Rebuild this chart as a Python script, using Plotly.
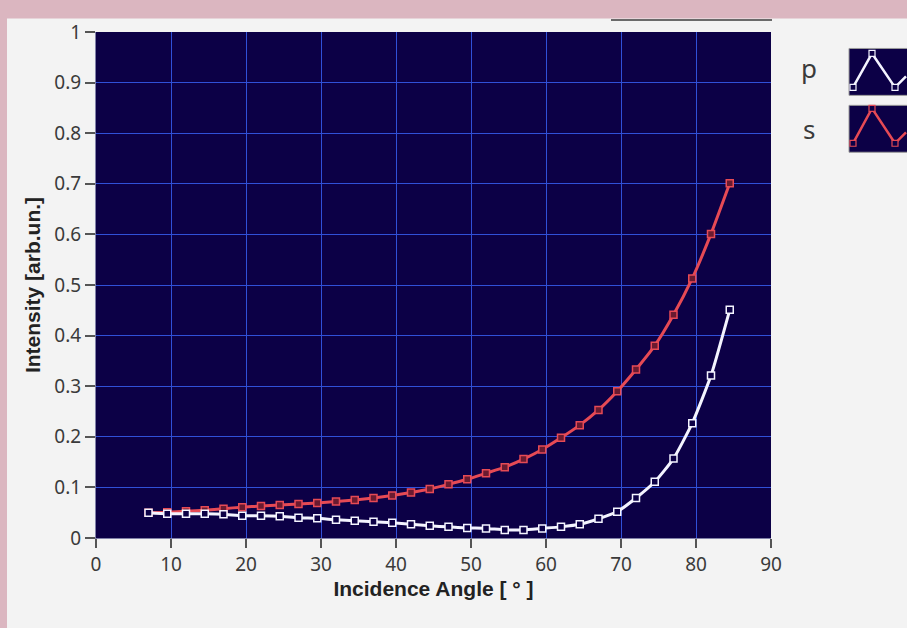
import plotly.graph_objects as go

# ---- data ----
angle = [7.0, 9.5, 12.0, 14.5, 17.0, 19.5, 22.0, 24.5, 27.0, 29.5,
         32.0, 34.5, 37.0, 39.5, 42.0, 44.5, 47.0, 49.5, 52.0, 54.5,
         57.0, 59.5, 62.0, 64.5, 67.0, 69.5, 72.0, 74.5, 77.0, 79.5,
         82.0, 84.5]
p_int = [0.050, 0.048, 0.048, 0.048, 0.047, 0.044, 0.044, 0.043, 0.040, 0.039,
         0.036, 0.034, 0.032, 0.030, 0.027, 0.024, 0.022, 0.020, 0.019, 0.016,
         0.016, 0.019, 0.022, 0.027, 0.038, 0.052, 0.079, 0.111, 0.157, 0.227,
         0.321, 0.451]
s_int = [0.050, 0.051, 0.053, 0.055, 0.058, 0.061, 0.063, 0.065, 0.067, 0.069,
         0.072, 0.075, 0.079, 0.084, 0.090, 0.097, 0.106, 0.116, 0.128, 0.140,
         0.156, 0.175, 0.198, 0.223, 0.253, 0.290, 0.333, 0.380, 0.441, 0.513,
         0.601, 0.701]
x_ticks = [0, 10, 20, 30, 40, 50, 60, 70, 80, 90]
y_ticks = [0, 0.1, 0.2, 0.3, 0.4, 0.5, 0.6, 0.7, 0.8, 0.9, 1]
y_tick_text = ["0", "0.1", "0.2", "0.3", "0.4", "0.5", "0.6", "0.7", "0.8", "0.9", "1"]
series_names = ["p", "s"]

# ---- styling ----
W, H = 907, 628
L, R, T, B = 96, 136, 31.5, 89.5
PW, PH = W - L - R, H - T - B
NAVY = "#0c0046"
GRID = "#3050d8"
RED = "#e64a55"
WHITE = "#f4f4ff"
PANEL = "#f3f3f3"
PINK = "#dbb6c0"
TXT = "#3a3a3a"


def px(xp):
    return (xp - L) / PW


def py(yp):
    return (H - B - yp) / PH


fig = go.Figure()
fig.add_trace(go.Scatter(
    x=angle, y=s_int, mode="lines+markers", name=series_names[1],
    line=dict(color=RED, width=3, shape="spline", smoothing=0.5),
    marker=dict(symbol="square", size=7, color="#6a1a30", line=dict(color=RED, width=1.5)),
))
fig.add_trace(go.Scatter(
    x=angle, y=p_int, mode="lines+markers", name=series_names[0],
    line=dict(color=WHITE, width=3, shape="spline", smoothing=0.5),
    marker=dict(symbol="square", size=7, color=NAVY, line=dict(color=WHITE, width=1.5)),
))

shapes = [
    # pink frame
    dict(type="rect", xref="paper", yref="paper", x0=px(-5), x1=px(W + 5), y0=py(18), y1=py(-5),
         fillcolor=PINK, line=dict(width=0), layer="below"),
    dict(type="rect", xref="paper", yref="paper", x0=px(-5), x1=px(7), y0=py(H + 5), y1=py(-5),
         fillcolor=PINK, line=dict(width=0), layer="below"),
    # thin grey bar at top
    dict(type="line", xref="paper", yref="paper", x0=px(611), x1=px(772), y0=py(19.5), y1=py(19.5),
         line=dict(color="#6a6a6a", width=2)),
    # legend boxes
    dict(type="rect", xref="paper", yref="paper", x0=px(849), x1=px(912), y0=py(95), y1=py(48),
         fillcolor=NAVY, line=dict(color="#9a9a9a", width=1)),
    dict(type="rect", xref="paper", yref="paper", x0=px(849), x1=px(912), y0=py(152), y1=py(105),
         fillcolor=NAVY, line=dict(color="#9a9a9a", width=1)),
]


def icon_path(pts):
    return "M " + " L ".join(f"{px(a):.5f},{py(b):.5f}" for a, b in pts)


p_icon = [(853, 87), (872, 53), (895, 87), (906, 76)]
s_icon = [(853, 143), (872, 108), (895, 143), (906, 132)]
for pts, col in [(p_icon, WHITE), (s_icon, RED)]:
    shapes.append(dict(type="path", xref="paper", yref="paper", path=icon_path(pts),
                       line=dict(color=col, width=2.5)))
    for a, b in pts[:3]:
        shapes.append(dict(type="rect", xref="paper", yref="paper",
                           x0=px(a - 3), x1=px(a + 3), y0=py(b + 3), y1=py(b - 3),
                           fillcolor=NAVY, line=dict(color=col, width=1.2)))

annotations = [
    dict(text=series_names[0], xref="paper", yref="paper", x=px(809), y=py(68),
         xanchor="center", yanchor="middle",
         showarrow=False, font=dict(family="Noto Sans", size=26, color=TXT)),
    dict(text=series_names[1], xref="paper", yref="paper", x=px(809), y=py(129),
         xanchor="center", yanchor="middle",
         showarrow=False, font=dict(family="Noto Sans", size=26, color=TXT)),
]

fig.update_layout(
    width=W, height=H,
    margin=dict(l=L, r=R, t=T, b=B, pad=0),
    paper_bgcolor=PANEL,
    plot_bgcolor=NAVY,
    showlegend=False,
    shapes=shapes,
    annotations=annotations,
    font=dict(family="Noto Sans", size=14, color=TXT),
)
fig.update_xaxes(
    range=[0, 90], tickmode="array", tickvals=x_ticks, ticktext=[str(v) for v in x_ticks],
    showgrid=True, gridcolor=GRID, gridwidth=1, zeroline=False,
    ticks="outside", ticklen=9, tickcolor="#555555", tickwidth=1.5, ticklabelstandoff=0,
    showline=True, linecolor="#8080a8", linewidth=1,
    tickfont=dict(family="Noto Sans", size=19, color=TXT),
    title=dict(text="<b>Incidence Angle [ ° ]</b>", standoff=0,
               font=dict(family="Liberation Sans", size=21, color="#222222")),
)
fig.update_yaxes(
    range=[0, 1], tickmode="array", tickvals=y_ticks, ticktext=y_tick_text,
    showgrid=True, gridcolor=GRID, gridwidth=1, zeroline=False,
    ticks="outside", ticklen=10, tickcolor="#555555", tickwidth=1.5,
    showline=True, linecolor="#8080a8", linewidth=1,
    tickfont=dict(family="Noto Sans", size=19, color=TXT),
    title=dict(text="<b>Intensity [arb.un.]</b>", standoff=8,
               font=dict(family="Liberation Sans", size=21, color="#222222")),
)

fig.write_html("out.html")
